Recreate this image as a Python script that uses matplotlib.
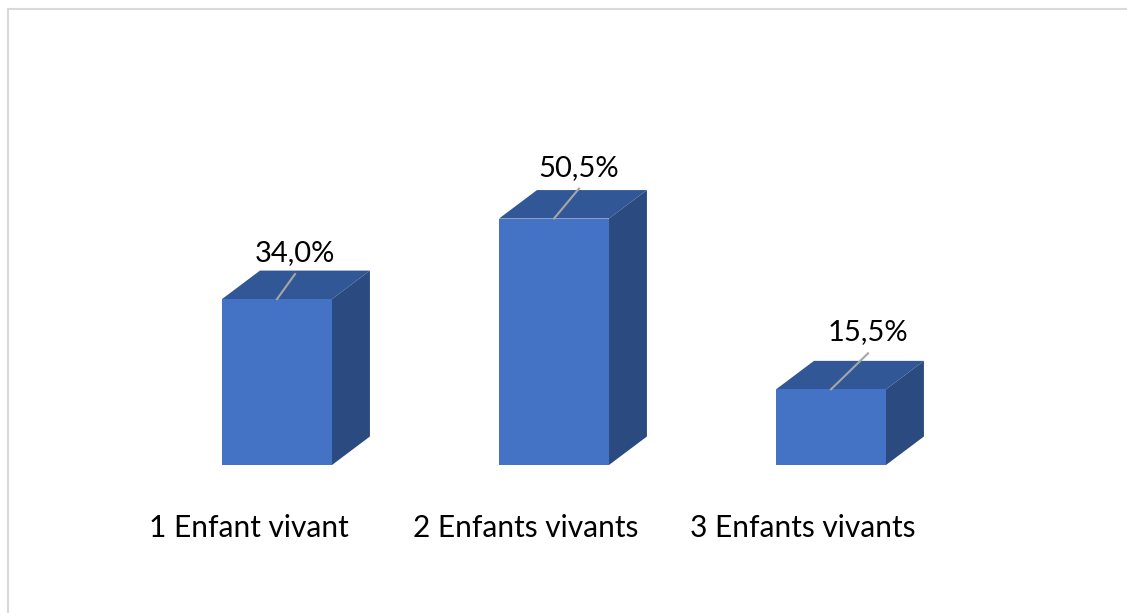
import matplotlib
matplotlib.use('Agg')
import matplotlib.pyplot as plt
from matplotlib.patches import Polygon, Rectangle

categories = ['1 Enfant vivant', '2 Enfants vivants', '3 Enfants vivants']
values = [34.0, 50.5, 15.5]
value_labels = ['34,0%', '50,5%', '15,5%']

# styling
front_color = '#4472C4'
top_color = '#325797'
side_color = '#2B4A80'
bar_width = 0.397
depth_x = 0.137
depth_y = 5.84
px_x = 1 / 277   # one pixel in x data units
px_y = 1 / 4.88  # one pixel in y data units
# leader line end (pixels, relative to front top centre)
leader_offsets = [(18, 25), (25, 30), (37, 36)]

plt.rcParams['font.family'] = ['Lato', 'DejaVu Sans']

fig = plt.figure(figsize=(11.27, 6.13), dpi=100)
ax = fig.add_axes([0, 0, 1, 1])
ax.set_xlim(-1.0, 3.0686)
ax.set_ylim(-30.33, 95.29)
ax.axis('off')

x = list(range(len(values)))
ax.bar(x, values, width=bar_width, color=front_color, zorder=3)

for xi, v in zip(x, values):
    left = xi - bar_width / 2
    right = xi + bar_width / 2
    top = Polygon([(left, v), (right, v), (right + depth_x, v + depth_y),
                   (left + depth_x, v + depth_y)], closed=True,
                  facecolor=top_color, edgecolor='none', zorder=2)
    side = Polygon([(right, 0), (right + depth_x, depth_y),
                    (right + depth_x, v + depth_y), (right, v)], closed=True,
                   facecolor=side_color, edgecolor='none', zorder=2)
    ax.add_patch(top)
    ax.add_patch(side)

for xi, v, lab, (dx, dy) in zip(x, values, value_labels, leader_offsets):
    ex = xi + dx * px_x
    ey = v + dy * px_y
    ax.plot([xi, ex], [v, ey], color='#A6A6A6', linewidth=1.5, zorder=4)
    ax.text(ex, ey + 21 * px_y, lab, ha='center', va='center',
            fontsize=21, color='black', zorder=5)

for xi, cat in zip(x, categories):
    ax.text(xi - 28.5 * px_x, -63 * px_y, cat, ha='center', va='center',
            fontsize=21.5, color='black')

fig.patches.append(Rectangle((8 / 1127, -0.1), 1.2, 1 - 9 / 613 + 0.1,
                             transform=fig.transFigure, fill=False,
                             edgecolor='#D9D9D9', linewidth=1.5))

fig.savefig('out.png', dpi=100)
